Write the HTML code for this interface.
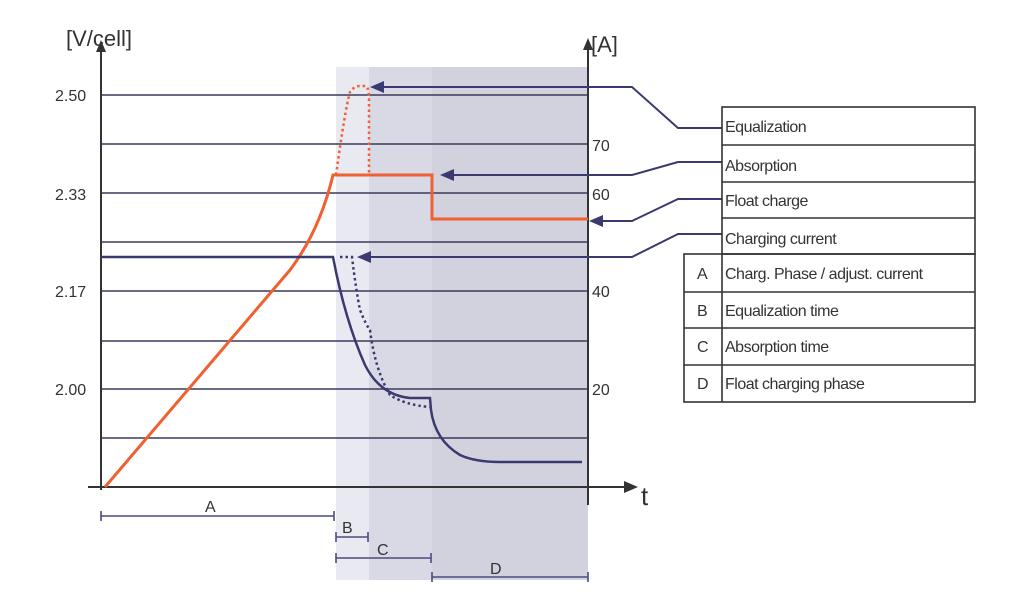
<!DOCTYPE html>
<html><head><meta charset="utf-8"><style>
body{margin:0;background:#fff;}
svg{display:block;}
text{font-family:"Liberation Sans",sans-serif;fill:#333;}
</style></head><body>
<svg width="1018" height="616" viewBox="0 0 1018 616" xmlns="http://www.w3.org/2000/svg">
<rect x="336" y="67" width="33" height="513" fill="#e9e9f1"/>
<rect x="369" y="67" width="63" height="513" fill="#d9d9e5"/>
<rect x="432" y="67" width="156" height="513" fill="#d2d2de"/>
<g stroke="#3a3a5a" stroke-width="1.6">
<line x1="101" y1="95" x2="588" y2="95"/>
<line x1="101" y1="144" x2="588" y2="144"/>
<line x1="101" y1="193" x2="588" y2="193"/>
<line x1="101" y1="242" x2="588" y2="242"/>
<line x1="101" y1="291" x2="588" y2="291"/>
<line x1="101" y1="341" x2="588" y2="341"/>
<line x1="101" y1="389" x2="588" y2="389"/>
<line x1="101" y1="438" x2="588" y2="438"/>
</g>
<g stroke="#333" stroke-width="2" fill="#333">
<line x1="101" y1="490" x2="101" y2="50"/>
<polygon points="101,40 96,52 106,52" stroke="none"/>
<line x1="588" y1="505" x2="588" y2="50"/>
<polygon points="588,38 583,50 593,50" stroke="none"/>
<line x1="88" y1="487" x2="626" y2="487"/>
<polygon points="638,487 624,481 624,493" stroke="none"/>
</g>
<text x="66" y="46" font-size="22">[V/cell]</text>
<text x="591" y="52" font-size="22">[A]</text>
<text x="641" y="505" font-size="26">t</text>
<g font-size="16">
<text x="55" y="101">2.50</text>
<text x="55" y="200">2.33</text>
<text x="55" y="297">2.17</text>
<text x="55" y="395">2.00</text>
<text x="592" y="151">70</text>
<text x="592" y="200">60</text>
<text x="592" y="297">40</text>
<text x="592" y="395">20</text>
</g>
<!-- orange -->
<path d="M105,487 L290,270 Q320,230 333,175 L432,175 L432,219 L588,219" fill="none" stroke="#f06030" stroke-width="3"/>
<path d="M336,175 Q345,110 350,92 Q354,86 360,86 L366,86 Q369,88 369,100 L369,175" fill="none" stroke="#f06030" stroke-width="2.5" stroke-dasharray="2.5,3"/>
<!-- blue -->
<path d="M101,257 L333,257 Q345,320 365,365 Q380,395 410,398 L430,398 L431,410 Q435,440 460,455 Q475,462 500,462 L582,462" fill="none" stroke="#3a3a70" stroke-width="2.5"/>
<path d="M340,257 L352,257 Q356,290 360,310 Q366,325 370,330 Q375,370 390,395 Q405,405 430,407" fill="none" stroke="#3a3a70" stroke-width="2.5" stroke-dasharray="2.5,3"/>
<!-- connectors -->
<g stroke="#3a3a70" stroke-width="2" fill="none">
<polyline points="380,87 632,87 678,128 722,128"/>
<polyline points="450,175 632,175 678,162 722,162"/>
<polyline points="598,221 632,221 678,199 722,199"/>
<polyline points="367,257 632,257 678,234 722,234"/>
</g>
<g fill="#3a3a70">
<polygon points="370,87 384,81 384,93"/>
<polygon points="440,175 454,169 454,181"/>
<polygon points="589,221 603,215 603,227"/>
<polygon points="357,257 371,251 371,263"/>
</g>
<!-- legend -->
<g stroke="#333" stroke-width="1.6" fill="none">
<rect x="722" y="107" width="253" height="147"/>
<line x1="722" y1="145" x2="975" y2="145"/>
<line x1="722" y1="182" x2="975" y2="182"/>
<line x1="722" y1="218" x2="975" y2="218"/>
<rect x="684" y="254" width="291" height="148"/>
<line x1="722" y1="254" x2="722" y2="402"/>
<line x1="684" y1="292" x2="975" y2="292"/>
<line x1="684" y1="328" x2="975" y2="328"/>
<line x1="684" y1="365" x2="975" y2="365"/>
</g>
<g font-size="16" letter-spacing="-0.5">
<text x="725" y="132">Equalization</text>
<text x="725" y="171">Absorption</text>
<text x="725" y="206">Float charge</text>
<text x="725" y="244">Charging current</text>
<text x="725" y="279">Charg. Phase / adjust. current</text>
<text x="725" y="316">Equalization time</text>
<text x="725" y="352">Absorption time</text>
<text x="725" y="389">Float charging phase</text>
<text x="697" y="279">A</text>
<text x="697" y="316">B</text>
<text x="697" y="352">C</text>
<text x="697" y="389">D</text>
</g>
<!-- ranges -->
<g stroke="#4a4a80" stroke-width="1.6">
<line x1="101" y1="516" x2="334" y2="516"/><line x1="101" y1="511" x2="101" y2="521"/><line x1="334" y1="511" x2="334" y2="521"/>
<line x1="336" y1="537" x2="368" y2="537"/><line x1="336" y1="532" x2="336" y2="542"/><line x1="368" y1="532" x2="368" y2="542"/>
<line x1="336" y1="558" x2="431" y2="558"/><line x1="336" y1="553" x2="336" y2="563"/><line x1="431" y1="553" x2="431" y2="563"/>
<line x1="432" y1="577" x2="588" y2="577"/><line x1="432" y1="572" x2="432" y2="582"/><line x1="588" y1="572" x2="588" y2="582"/>
</g>
<g font-size="16">
<text x="205" y="512">A</text>
<text x="342" y="533">B</text>
<text x="377" y="555">C</text>
<text x="490" y="574">D</text>
</g>
</svg>
</body></html>
